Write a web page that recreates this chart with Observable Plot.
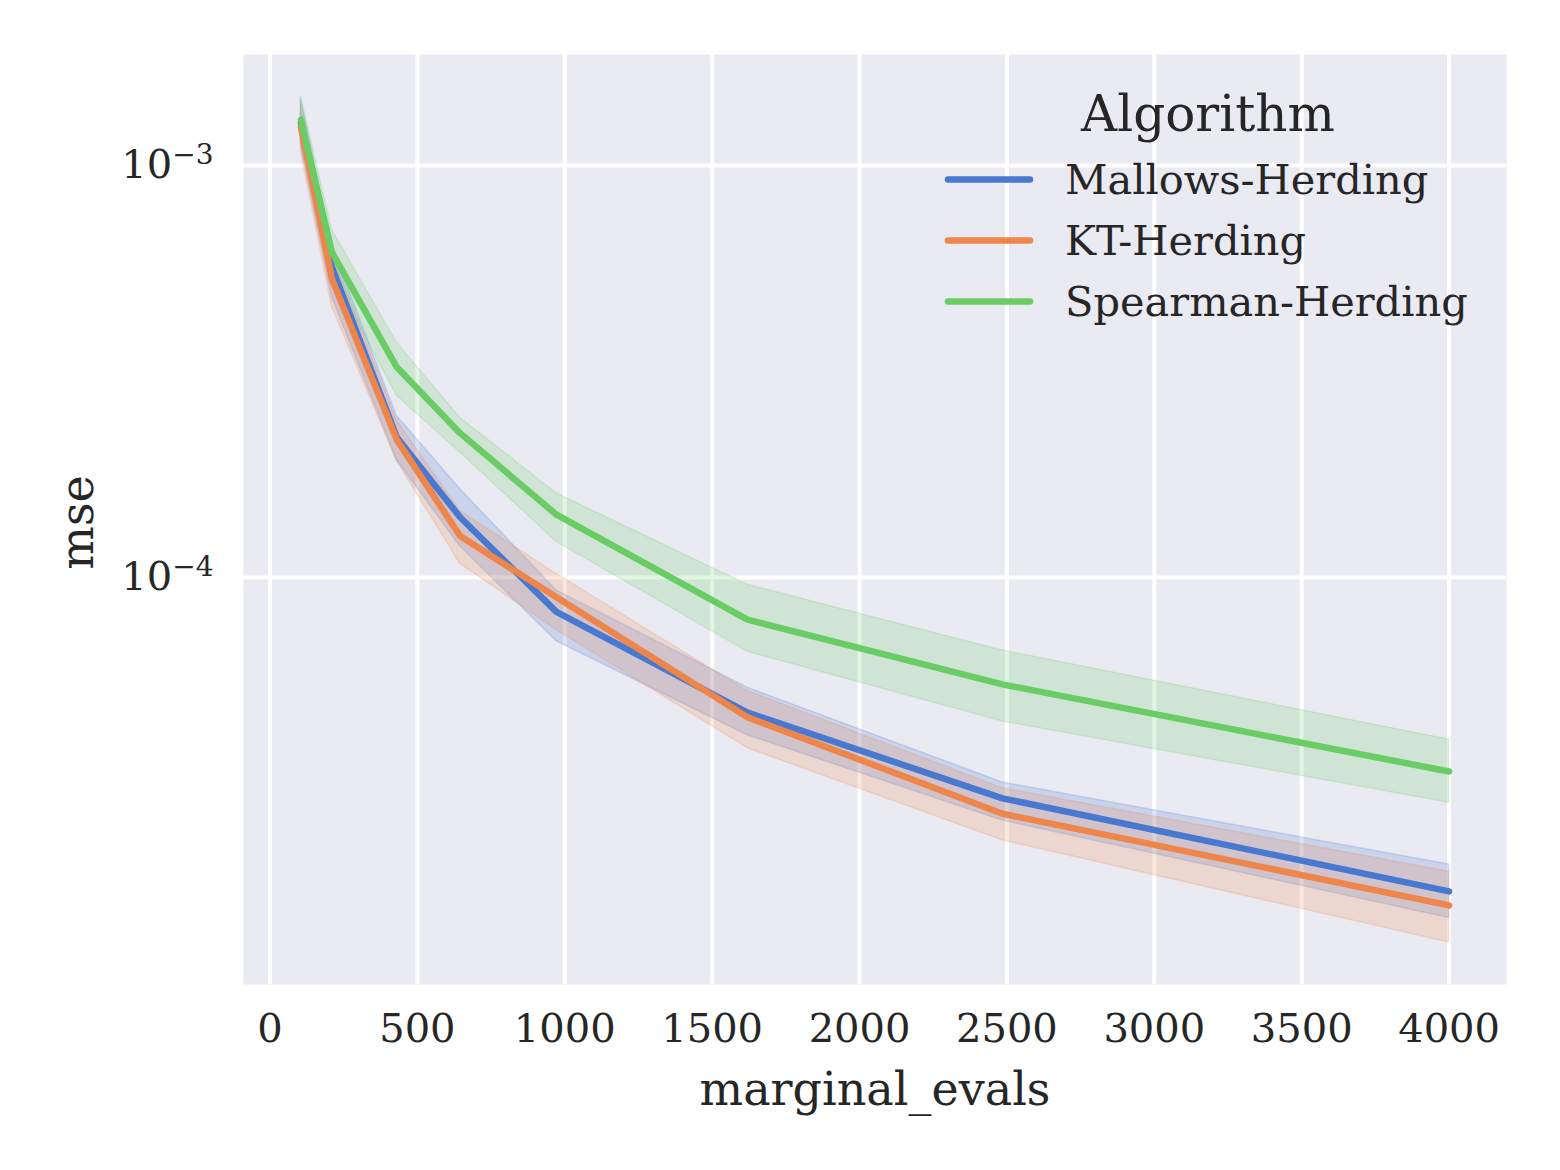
<!DOCTYPE html>
<html><head><meta charset="utf-8">
<script src="https://cdn.jsdelivr.net/npm/d3@7"></script>
<script src="https://cdn.jsdelivr.net/npm/@observablehq/plot@0.6"></script>
<style>
html,body{margin:0;padding:0;background:#fff;overflow:hidden;}
#wrap{position:relative;width:1560px;height:1170px;}
#wrap svg.legend{position:absolute;left:0;top:0;pointer-events:none;}
</style></head><body><div id="wrap"></div>
<script>
// ---- data ----
const evals = [105, 210, 430, 645, 972, 1620, 2485, 4000];
const algorithms = ["Mallows-Herding", "KT-Herding", "Spearman-Herding"];
const colors = ["#4878d0", "#ee854a", "#6acc64"];

const mallowsMean = [1.27e-3, 5.66e-4, 2.19e-4, 1.40e-4, 8.25e-5, 4.70e-5, 2.91e-5, 1.73e-5];
const mallowsLo   = [1.12e-3, 4.80e-4, 1.93e-4, 1.19e-4, 7.00e-5, 4.14e-5, 2.57e-5, 1.49e-5];
const mallowsHi   = [1.45e-3, 6.40e-4, 2.47e-4, 1.64e-4, 9.30e-5, 5.40e-5, 3.18e-5, 2.01e-5];

const ktMean = [1.24e-3, 5.31e-4, 2.16e-4, 1.26e-4, 8.95e-5, 4.58e-5, 2.67e-5, 1.60e-5];
const ktLo   = [1.08e-3, 4.55e-4, 1.92e-4, 1.08e-4, 7.45e-5, 3.85e-5, 2.30e-5, 1.30e-5];
const ktHi   = [1.40e-3, 6.10e-4, 2.40e-4, 1.45e-4, 1.02e-4, 5.30e-5, 3.08e-5, 1.93e-5];

const spearmanMean = [1.29e-3, 6.16e-4, 3.24e-4, 2.24e-4, 1.42e-4, 7.90e-5, 5.50e-5, 3.38e-5];
const spearmanLo   = [1.13e-3, 5.50e-4, 2.76e-4, 2.01e-4, 1.22e-4, 6.60e-5, 4.47e-5, 2.84e-5];
const spearmanHi   = [1.47e-3, 6.98e-4, 3.72e-4, 2.44e-4, 1.60e-4, 9.60e-5, 6.65e-5, 4.04e-5];

const xTicks = [0, 500, 1000, 1500, 2000, 2500, 3000, 3500, 4000];
const yTicks = [1e-3, 1e-4];
const xLabel = "marginal_evals";
const yLabel = "mse";
const legendTitle = "Algorithm";

// ---- build table ----
const series = [
  [mallowsMean, mallowsLo, mallowsHi],
  [ktMean, ktLo, ktHi],
  [spearmanMean, spearmanLo, spearmanHi]
];
const rows = [];
series.forEach(([m, lo, hi], i) => {
  evals.forEach((x, j) => rows.push({algorithm: algorithms[i], x, mean: m[j], lo: lo[j], hi: hi[j]}));
});

const font = "DejaVu Serif";
const ink = "#262626";

const plot = Plot.plot({
  width: 1560,
  height: 1170,
  marginLeft: 243,
  marginRight: 54,
  marginTop: 54,
  marginBottom: 186,
  style: {fontFamily: font, fontSize: "40px", color: ink, background: "#fff"},
  x: {domain: [-89.75, 4194.75]},
  y: {type: "log", domain: [1.028e-5, 1.859e-3]},
  color: {domain: algorithms, range: colors},
  marks: [
    Plot.frame({fill: "#eaeaf2", stroke: "none"}),
    Plot.gridX(xTicks, {stroke: "#fff", strokeOpacity: 1, strokeWidth: 4}),
    Plot.gridY(yTicks, {stroke: "#fff", strokeOpacity: 1, strokeWidth: 4}),
    Plot.areaY(rows, {x: "x", y1: "lo", y2: "hi", z: "algorithm", fill: "algorithm", fillOpacity: 0.2,
      stroke: "algorithm", strokeOpacity: 0.2, strokeWidth: 1.5}),
    Plot.line(rows, {x: "x", y: "mean", z: "algorithm", stroke: "algorithm", strokeWidth: 6.5,
      strokeLinecap: "round", strokeLinejoin: "round"}),
    Plot.axisX(xTicks, {tickSize: 0, tickPadding: 29, fontSize: 40, label: null, fill: ink,
      tickFormat: d => String(d)}),
    Plot.axisY(yTicks, {tickSize: 0, tickPadding: 30, fontSize: 40, label: null, fill: ink,
      tickFormat: d => "10|" + Math.round(Math.log10(d))}),
    Plot.text([xLabel], {frameAnchor: "bottom", lineAnchor: "bottom", textAnchor: "middle", dy: 120,
      text: d => d, fontSize: 46, fill: ink}),
    Plot.text([yLabel], {frameAnchor: "left", rotate: -90, lineAnchor: "bottom", textAnchor: "middle",
      dx: -151, dy: 3, text: d => d, fontSize: 46, fill: ink})
  ]
});

// superscript exponents on the log-axis tick labels
d3.select(plot).selectAll('g[aria-label="y-axis tick label"] text').each(function () {
  const [base, exp] = this.textContent.split("|");
  const t = d3.select(this);
  t.text(null);
  t.append("tspan").text(base);
  t.append("tspan").attr("font-size", "28px").attr("dy", "-14").text(exp.replace("-", "\u2212"));
});

const wrap = document.getElementById("wrap");
wrap.appendChild(plot);

// legend (inside the plot area, upper right)
const leg = d3.create("svg").attr("class", "legend").attr("width", 1560).attr("height", 1170)
  .attr("font-family", font).attr("fill", ink);
leg.append("text").attr("x", 1208).attr("y", 131).attr("text-anchor", "middle")
  .attr("font-size", 50).text(legendTitle);
algorithms.forEach((name, i) => {
  const cy = 179.5 + 61 * i;
  leg.append("line").attr("x1", 948).attr("x2", 1030).attr("y1", cy).attr("y2", cy)
    .attr("stroke", colors[i]).attr("stroke-width", 6.5).attr("stroke-linecap", "round");
  leg.append("text").attr("x", 1065).attr("y", cy + 14.5).attr("font-size", 41.5).text(name);
});
wrap.appendChild(leg.node());
</script>
</body></html>
